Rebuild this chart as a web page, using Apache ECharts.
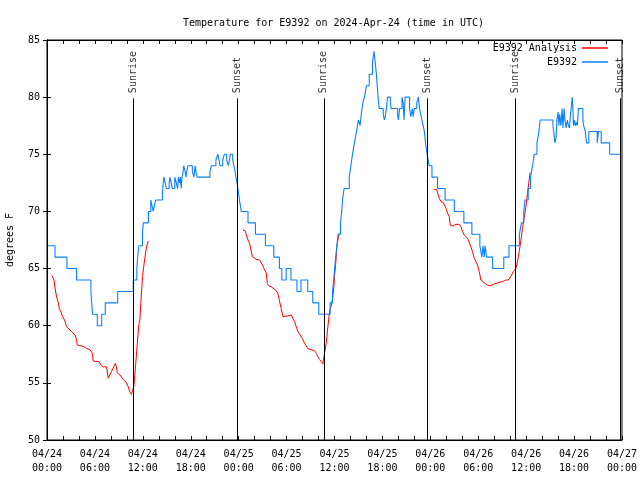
<!DOCTYPE html>
<html>
<head>
<meta charset="utf-8">
<script src="https://cdn.jsdelivr.net/npm/echarts@6/dist/echarts.min.js"></script>
<style>html,body{margin:0;padding:0;background:#fff}#c{width:640px;height:480px}</style>
</head>
<body>
<div id="c"></div>
<script>
// hours since 04/24 00:00 UTC
const tickLabels = ['04/24\n00:00','04/24\n06:00','04/24\n12:00','04/24\n18:00','04/25\n00:00','04/25\n06:00','04/25\n12:00','04/25\n18:00','04/26\n00:00','04/26\n06:00','04/26\n12:00','04/26\n18:00','04/27\n00:00'];
const sunTimes = [10.78, 23.79, 34.67, 47.67, 58.67, 71.75];
const sunNames = ['Sunrise','Sunset','Sunrise','Sunset','Sunrise','Sunset'];

// E9392 observations: [hour, degF] (value holds until next point)
const obsE9392 = [
[0.12,67],[1.0,66],[2.5,65],[3.7,64],[5.5,63],[5.6,62],[5.7,61],[6.3,60],[6.85,61],[7.3,62],[8.85,63],[10.8,64],
[11.25,65],[11.35,66],[11.5,67],[11.95,68],[12.05,69],[12.7,70],[13.0,71],[13.15,70.5],[13.3,70],[13.45,70.5],[13.6,71],
[14.45,71.5],[14.55,72.5],[14.65,73],[14.8,72.5],[14.95,72],[15.3,72.5],[15.4,73],[15.55,72.5],[15.7,72],[16.0,73],
[16.2,72.5],[16.35,72],[16.45,73],[16.6,72.5],[16.7,73],[16.8,72],[16.9,73],[17.05,73.5],[17.12,74],[17.3,73.5],[17.4,73],
[17.5,73.5],[17.65,74],[18.2,73.5],[18.4,73],[18.55,74],[18.65,73.5],[18.8,73],[20.4,73.5],[20.6,74],[21.15,74.5],[21.4,75],
[21.55,74.5],[21.65,74],[22.0,74.5],[22.2,75],[22.5,74.5],[22.7,74],[22.85,74.5],[22.95,75],[23.25,74.5],[23.4,74],
[23.55,73.5],[23.65,73],[23.8,72.5],[23.9,72],[24.1,71],[24.33,70],[25.17,69],[26.1,68],[27.35,67],[28.4,66],[29.1,65],
[29.4,64],[29.95,65],[30.55,64],[31.3,63],[31.8,64],[32.65,63],[33.28,62],[34.03,61],[35.45,62],[35.75,63],[35.9,64],
[36.02,65],[36.15,66],[36.3,67],[36.45,68],[36.75,69],[36.9,70],[37.0,71],[37.2,72],[37.85,73],[38.05,74],[38.25,75],
[38.5,76],[38.75,77],[39.0,78],[39.2,77.5],[39.35,78.5],[39.55,79.5],[39.75,80],[40.0,81],[40.35,82],[40.75,83],[40.95,84],
[41.1,83],[41.25,82],[41.35,81],[41.45,80],[41.6,79],[42.1,78.5],[42.25,78],[42.4,78.5],[42.5,79],[42.65,80],[43.0,79.5],
[43.1,79],[43.9,78.5],[44.0,78],[44.15,79],[44.45,80],[44.6,79.5],[44.7,78],[44.85,80],[45.4,79],[45.55,78.3],[45.75,79],
[45.85,78.3],[46.0,79],[46.3,79.5],[46.5,80],[46.65,79],[46.8,78.5],[46.95,78],[47.1,77.5],[47.25,77],[47.4,76],[47.6,75],
[47.85,74],[48.2,73],[48.9,72],[49.85,71],[51.0,70],[52.2,69],[53.2,68],[54.2,67],[54.45,66],[54.6,67],[54.75,66],
[54.85,67],[55.05,66],[55.8,65],[57.2,66],[57.85,67],[59.15,68],[59.4,69],[59.7,70],[59.85,71],[60.25,72],[60.55,73],
[60.8,74],[61.0,75],[61.35,76],[61.6,77],[61.75,78],[63.35,77.5],[63.45,77],[63.6,76],[63.75,76.5],[63.85,78],[64.0,78.7],
[64.1,77.5],[64.2,78.5],[64.35,77.5],[64.5,79],[64.6,77.3],[64.75,79],[64.85,78],[65.0,77.3],[65.15,78],[65.3,77.5],
[65.42,77.3],[65.55,78.5],[65.68,79.3],[65.77,80],[65.85,79],[65.92,77.5],[66.05,78],[66.15,77.5],[66.3,77.8],[66.4,77.5],
[66.55,79],[67.1,78],[67.2,77.5],[67.4,77],[67.55,76],[67.85,77],[68.9,76],[69.05,77],[69.4,76],[70.45,75],[71.9,75]
];

// E9392 Analysis: [hour, degF], null = gap
const analysisE9392 = [
[0.625,64.4],[0.875,64.0],[1.0,63.3],[1.21,62.5],[1.42,62.0],[1.54,61.5],[1.75,61.2],[1.96,60.8],[2.25,60.4],[2.46,59.9],
[2.67,59.8],[3.08,59.5],[3.5,59.2],[3.71,58.75],[3.79,58.3],[4.54,58.2],[4.96,58.0],[5.375,57.9],[5.67,57.6],[5.79,56.9],
[6.54,56.85],[6.71,56.6],[7.04,56.4],[7.46,56.4],[7.67,55.4],[8.08,56.0],[8.54,56.7],[8.71,56.4],[8.79,55.9],[9.125,55.7],
[9.54,55.3],[9.875,55.05],[10.17,54.66],[10.375,54.2],[10.58,54.0],[10.71,54.0],[10.875,54.7],[11.08,56.4],[11.29,58.3],
[11.5,60.1],[11.625,60.5],[11.75,62.0],[11.96,64.3],[12.17,65.5],[12.46,66.9],[12.67,67.4],
[18.0,null],
[24.54,68.38],[24.83,68.3],[24.96,67.95],[25.17,67.5],[25.375,67.2],[25.58,67.1],[25.71,66.05],[25.875,66.0],[26.21,65.8],
[26.625,65.75],[26.83,65.6],[27.04,65.23],[27.25,64.88],[27.46,64.6],[27.58,63.7],[27.75,63.5],[28.08,63.4],[28.29,63.3],
[28.71,63.07],[28.92,62.8],[29.125,62.1],[29.33,61.5],[29.54,60.8],[29.75,60.74],[30.17,60.85],[30.58,60.94],[30.79,60.8],
[31.0,60.36],[31.21,59.92],[31.42,59.48],[31.625,59.28],[31.83,59.2],[32.04,58.8],[32.25,58.46],[32.46,58.23],[32.67,58.0],
[33.08,57.9],[33.5,57.82],[33.71,57.59],[33.92,57.3],[34.125,57.06],[34.33,56.86],[34.54,56.66],[34.67,56.77],[34.75,57.6],
[34.96,58.46],[35.17,59.92],[35.375,61.2],[35.58,61.7],[35.79,62.5],[35.92,63.4],[36.0,64.3],[36.125,65.2],[36.21,66.0],
[36.29,66.9],[36.42,67.5],[36.54,67.9],[36.71,68.1],
[42.0,null],
[48.5,71.93],[48.79,71.9],[48.92,71.6],[49.125,71.15],[49.33,70.86],[49.625,70.77],[49.75,70.6],[49.96,70.27],[50.17,69.83],
[50.375,69.54],[50.5,68.76],[50.79,68.73],[51.0,68.76],[51.21,68.87],[51.625,68.87],[51.83,68.67],[52.04,68.23],[52.25,67.94],
[52.67,67.65],[52.875,67.5],[53.08,66.9],[53.29,66.48],[53.5,65.9],[53.71,65.75],[53.92,65.3],[54.125,64.73],[54.33,64.0],
[54.54,63.86],[54.96,63.65],[55.375,63.48],[55.58,63.57],[56.0,63.65],[56.21,63.71],[56.625,63.8],[57.04,63.86],[57.46,64.0],
[57.79,64.0],[58.08,64.3],[58.375,64.73],[58.71,65.0],[58.95,65.75],[59.15,66.6],[59.35,67.5],[59.55,68.6],[59.75,69.4],
[59.95,70.3],[60.17,71.58],[60.375,72.75],[60.5,73.4]
];

const FONT = "'DejaVu Sans Mono', 'Liberation Mono', monospace";
const txt = {fontFamily: FONT, fontSize: 10, color: '#000'};

const chart = echarts.init(document.getElementById('c'), null, {renderer: 'canvas'});
const legendBase = {
  orient: 'vertical', align: 'right', icon: 'rect', itemWidth: 26, itemHeight: 1.5,
  right: 32, padding: 0, textStyle: Object.assign({}, txt, {fontSize: 10}), selectedMode: false
};
chart.setOption({
  animation: false,
  backgroundColor: '#fff',
  title: {
    text: 'Temperature for E9392 on 2024-Apr-24 (time in UTC)',
    left: 178, top: 13,
    textStyle: Object.assign({}, txt, {fontWeight: 'normal'})
  },
  legend: [
    Object.assign({}, legendBase, {data: ['E9392 Analysis'], top: 43}),
    Object.assign({}, legendBase, {data: ['E9392'], top: 57})
  ],
  grid: {left: 47, right: 18, top: 40, bottom: 40, show: true, borderColor: '#000', borderWidth: 1,
         containLabel: false, outerBoundsMode: 'none'},
  xAxis: [{
    type: 'value', min: 0, max: 72, interval: 6,
    axisLine: {show: true, lineStyle: {color: '#000', width: 1}},
    axisTick: {show: true, inside: true, length: 4, lineStyle: {color: '#000'}},
    minorTick: {show: true, splitNumber: 3, length: 4, lineStyle: {color: '#000'}},
    splitLine: {show: false},
    axisLabel: Object.assign({}, txt, {margin: 7, lineHeight: 14,
      formatter: v => tickLabels[Math.round(v / 6)]})
  }, {
    type: 'value', position: 'top', min: 0, max: 72, interval: 6,
    axisLine: {show: true, lineStyle: {color: '#000', width: 1}},
    axisTick: {show: true, inside: true, length: 4, lineStyle: {color: '#000'}},
    minorTick: {show: true, splitNumber: 3, length: 4, lineStyle: {color: '#000'}},
    splitLine: {show: false}, axisLabel: {show: false}
  }],
  yAxis: [{
    type: 'value', min: 50, max: 85, interval: 5,
    name: 'degrees F', nameLocation: 'middle', nameGap: 32,
    nameTextStyle: txt,
    axisLine: {show: true, lineStyle: {color: '#000', width: 1}},
    axisTick: {show: true, inside: true, length: 4, lineStyle: {color: '#000'}},
    splitLine: {show: false},
    axisLabel: Object.assign({}, txt, {margin: 7})
  }, {
    type: 'value', position: 'right', min: 50, max: 85, interval: 5,
    axisLine: {show: true, lineStyle: {color: '#000', width: 1}},
    axisTick: {show: true, inside: true, length: 4, lineStyle: {color: '#000'}},
    splitLine: {show: false}, axisLabel: {show: false}
  }],
  series: [
    {
      name: 'E9392 Analysis', type: 'line', data: analysisE9392,
      showSymbol: false, connectNulls: false, color: '#ff0000',
      lineStyle: {width: 1, color: '#ff0000'}, z: 3
    },
    {
      name: 'E9392', type: 'line', data: obsE9392, step: 'end',
      showSymbol: false, color: '#0a80ff',
      lineStyle: {width: 1.1, color: '#0a80ff'}, z: 4
    },
    {
      name: 'sun', type: 'scatter', symbolSize: 0, silent: true,
      data: sunTimes.map(t => [t, 80.35]),
      label: Object.assign({}, txt, {
        show: true, position: 'inside', rotate: 90, align: 'left', verticalAlign: 'middle',
        formatter: p => sunNames[p.dataIndex]
      }),
      markLine: {
        silent: true, symbol: 'none', animation: false,
        label: {show: false},
        lineStyle: {color: '#000', width: 1, type: 'solid'},
        data: sunTimes.map(t => [{coord: [t, 50]}, {coord: [t, 79.9]}])
      },
      z: 5
    }
  ]
});
</script>
</body>
</html>
